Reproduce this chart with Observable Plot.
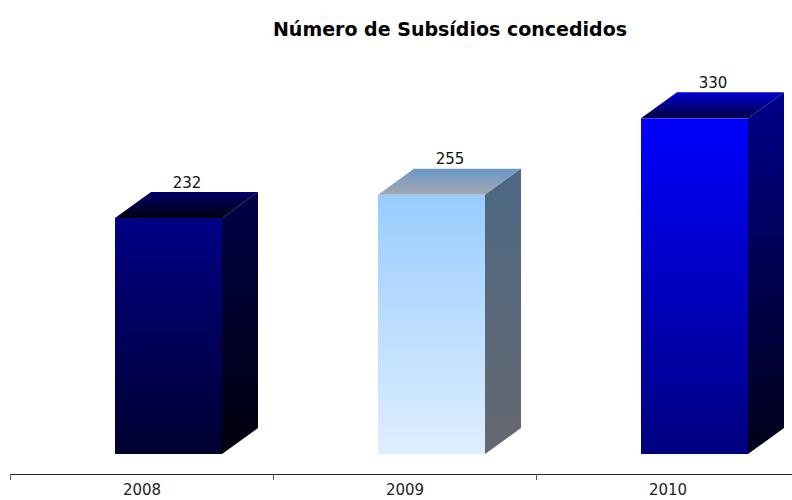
<!DOCTYPE html>
<html>
<head>
<meta charset="utf-8">
<script src="https://cdn.jsdelivr.net/npm/d3@7"></script>
<script src="https://cdn.jsdelivr.net/npm/@observablehq/plot@0.6"></script>
<style>
  body { margin: 0; background: white; }
  #title { height: 48px; box-sizing: border-box; padding-top: 18px; padding-left: 108px; line-height: 19px;
           text-align: center; font: bold 19px "DejaVu Sans", sans-serif; color: #000; width: 792px; }
</style>
</head>
<body>
<div id="title">Número de Subsídios concedidos</div>
<div id="chart"></div>
<script>
const years = ["2008", "2009", "2010"];
const values = [232, 255, 330];

// colours for each face (top of gradient -> bottom of gradient)
const frontTop    = ["#000086", "#99ccff", "#0000ff"];
const frontBottom = ["#000030", "#deeeff", "#000080"];
const sideTop     = ["#000048", "#4c6884", "#00008a"];
const sideBottom  = ["#00000c", "#666870", "#000018"];
const capBack     = ["#000068", "#6a98c8", "#0000d2"];
const capFront    = ["#00000e", "#a2a8b2", "#000040"];

const data = years.map((year, i) => ({year, value: values[i], k: i}));

const DX = 36, DY = 26, INSET_L = 105, FACE_W = 107;

function grad(defs, id, c0, c1) {
  const lg = defs.append("linearGradient").attr("id", id)
    .attr("x1", 0).attr("y1", 0).attr("x2", 0).attr("y2", 1);
  lg.append("stop").attr("offset", "0%").attr("stop-color", c0);
  lg.append("stop").attr("offset", "100%").attr("stop-color", c1);
}

function cubes(index, scales, vals) {
  const g = d3.create("svg:g");
  const defs = g.append("defs");
  for (const i of index) {
    const k = data[i].k;
    grad(defs, "front" + k, frontTop[k], frontBottom[k]);
    grad(defs, "side" + k, sideTop[k], sideBottom[k]);
    grad(defs, "cap" + k, capBack[k], capFront[k]);
  }
  for (const i of index) {
    const k = data[i].k;
    const x0 = vals.x[i] + INSET_L, x1 = x0 + FACE_W;
    const yT = Math.min(vals.y1[i], vals.y2[i]);
    const yB = Math.max(vals.y1[i], vals.y2[i]);
    g.append("polygon")
      .attr("points", [[x0, yT], [x1, yT], [x1 + DX, yT - DY], [x0 + DX, yT - DY]].map(p => p.join(",")).join(" "))
      .attr("fill", `url(#cap${k})`);
    g.append("polygon")
      .attr("points", [[x1, yT], [x1 + DX, yT - DY], [x1 + DX, yB - DY], [x1, yB]].map(p => p.join(",")).join(" "))
      .attr("fill", `url(#side${k})`);
    g.append("rect").attr("x", x0).attr("y", yT).attr("width", FACE_W).attr("height", yB - yT)
      .attr("fill", `url(#front${k})`);
  }
  return g.node();
}

function baseAxis(index, scales, vals, dims) {
  const g = d3.create("svg:g");
  const yb = dims.height - dims.marginBottom;
  g.append("line").attr("x1", dims.marginLeft).attr("x2", dims.width - dims.marginRight)
    .attr("y1", yb + 0.5).attr("y2", yb + 0.5).attr("stroke", "#222");
  for (const y of years) {
    const x = Math.round(scales.x(y)) + 0.5;
    g.append("line").attr("x1", x).attr("x2", x).attr("y1", yb).attr("y2", yb + 6).attr("stroke", "#555");
  }
  return g.node();
}

const chart = Plot.plot({
  width: 792,
  height: 452,
  marginTop: 50,
  marginBottom: 26,
  marginLeft: 10,
  marginRight: 0,
  style: {fontFamily: "DejaVu Sans, sans-serif", fontSize: "15px", background: "white", color: "#222"},
  x: {type: "band", domain: years, range: [10, 799], padding: 0, label: null},
  y: {domain: [0, 350], insetBottom: 20, axis: null},
  marks: [
    Plot.barY(data, {x: "year", y: "value", render: cubes}),
    Plot.text(data, {x: "year", y: "value", text: d => String(d.value), dx: 45, dy: -(DY + 5),
                     lineAnchor: "bottom", fontSize: 15, fill: "#111"}),
    Plot.axisX({tickSize: 0, tickPadding: 10, fontSize: 15, label: null, fill: "#222"}),
    baseAxis
  ]
});
document.getElementById("chart").appendChild(chart);
</script>
</body>
</html>
